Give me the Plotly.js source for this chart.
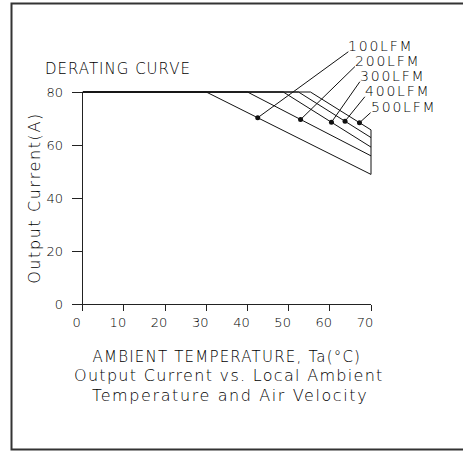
<!DOCTYPE html>
<html>
<head>
<meta charset="utf-8">
<script src="https://cdn.plot.ly/plotly-3.0.1.min.js"></script>
<style>
  html, body { margin: 0; padding: 0; background: #fff; }
  #chart { width: 463px; height: 451px; }
</style>
</head>
<body>
<div id="chart"></div>
<script>
// Derating curves: output current is held at full load up to a break
// temperature, then falls in a straight line to its value at 70 °C.
const airflow      = ['100LFM', '200LFM', '300LFM', '400LFM', '500LFM'];
const breakTemp    = [30, 40, 48.7, 52.4, 55.3];
const fullCurrent  = 80;
const maxTemp      = 70;
const currentAt70  = [48.9, 55.9, 59.2, 62.8, 65.7];

// Marked point on each curve (the leader line for its label starts here)
const markTemp     = [42.5, 52.9, 60.4, 63.7, 67.2];
const markCurrent  = [70.3, 69.6, 68.6, 69.0, 68.4];

const xTicks = [0, 10, 20, 30, 40, 50, 60, 70];
const yTicks = [0, 20, 40, 60, 80];

// ---- geometry of the figure (pixels) ----
const W = 463, H = 451;
const X0PX = 82.7, X70PX = 371;     // x = 0 and x = 70
const Y0PX = 304,  Y80PX = 92;      // y = 0 and y = 80
const pxPerX = (X70PX - X0PX) / maxTemp;
const pxPerY = (Y0PX - Y80PX) / fullCurrent;

// Label anchors (data units of the free overlay axes): end of each leader
const labelTemp    = [64.5, 66.1, 67.3, 68.5, 69.9];
const labelCurrent = [95.2, 89.6, 83.9, 78.2, 72.2];

const INK = '#111';
const TEXT = '#000';
const FONT = 'DejaVu Sans';
const WEIGHT = 200;
const spaced = (t, s) => '<span style="letter-spacing:' + s + 'px">' + t + '</span>';
const font = (size) => ({ family: FONT, size: size, color: TEXT, weight: WEIGHT });

const traces = [];

// curves, drawn on the overlay axes so the plateau and end edge are not clipped
airflow.forEach((name, i) => {
  traces.push({
    type: 'scatter', mode: 'lines', name: name,
    x: [0, breakTemp[i], maxTemp],
    y: [fullCurrent, fullCurrent, currentAt70[i]],
    xaxis: 'x2', yaxis: 'y2',
    line: { color: INK, width: 1 },
    hoverinfo: 'skip'
  });
});

// vertical edge closing the curves at 70 °C
traces.push({
  type: 'scatter', mode: 'lines',
  x: [maxTemp, maxTemp],
  y: [Math.min(...currentAt70), Math.max(...currentAt70)],
  xaxis: 'x2', yaxis: 'y2',
  line: { color: INK, width: 1 },
  hoverinfo: 'skip'
});

// leader lines from marked points to labels
airflow.forEach((name, i) => {
  traces.push({
    type: 'scatter', mode: 'lines',
    x: [markTemp[i], labelTemp[i]],
    y: [markCurrent[i], labelCurrent[i]],
    xaxis: 'x2', yaxis: 'y2',
    line: { color: INK, width: 1 },
    hoverinfo: 'skip'
  });
});

// marked points on the main axes
traces.push({
  type: 'scatter', mode: 'markers',
  x: markTemp, y: markCurrent,
  xaxis: 'x', yaxis: 'y',
  cliponaxis: false,
  marker: { color: INK, size: 5, symbol: 'circle' },
  hoverinfo: 'skip'
});

const annotations = [];

annotations.push({
  xref: 'paper', yref: 'paper',
  x: 43 / W, y: (H - 69.2) / H,
  xanchor: 'left', yanchor: 'middle', showarrow: false,
  text: spaced('DERATING CURVE', 1),
  font: font(15)
});

airflow.forEach((name, i) => {
  annotations.push({
    xref: 'x2', yref: 'y2',
    x: labelTemp[i], y: labelCurrent[i],
    xanchor: 'left', yanchor: 'bottom', showarrow: false,
    xshift: -2, yshift: -4,
    text: spaced(name, 1.8),
    font: font(14)
  });
});

annotations.push({
  xref: 'paper', yref: 'paper',
  x: 229 / W, y: (H - 375.8) / H,
  xanchor: 'center', yanchor: 'middle', showarrow: false,
  text: spaced('Output Current vs. Local Ambient', 1.3),
  font: font(16)
});
annotations.push({
  xref: 'paper', yref: 'paper',
  x: 229.5 / W, y: (H - 395.8) / H,
  xanchor: 'center', yanchor: 'middle', showarrow: false,
  text: spaced('Temperature and Air Velocity', 1.6),
  font: font(16)
});

const axisCommon = {
  showline: true, linecolor: '#222', linewidth: 1,
  ticks: 'outside', tickcolor: '#222', tickwidth: 1,
  showgrid: false, zeroline: false, fixedrange: true,
  tickfont: font(13)
};

const layout = {
  width: W, height: H,
  margin: { l: 0, r: 0, t: 0, b: 0, pad: 0 },
  paper_bgcolor: '#fff',
  plot_bgcolor: 'rgba(0,0,0,0)',
  showlegend: false,
  font: { family: FONT, color: TEXT, weight: WEIGHT },
  xaxis: Object.assign({}, axisCommon, {
    domain: [X0PX / W, X70PX / W],
    range: [0, maxTemp],
    tickvals: xTicks,
    ticklen: 6,
    ticklabelshift: -6,
    anchor: 'y',
    title: {
      text: spaced('AMBIENT TEMPERATURE, Ta(°C)', 1.2),
      font: font(15),
      standoff: 22
    }
  }),
  yaxis: Object.assign({}, axisCommon, {
    domain: [(H - Y0PX) / H, (H - Y80PX) / H],
    range: [0, fullCurrent],
    tickvals: yTicks,
    ticklen: 10,
    ticklabelstandoff: 6,
    anchor: 'x',
    title: {
      text: spaced('Output Current(A)', 1.6),
      font: font(16),
      standoff: 1
    }
  }),
  xaxis2: {
    domain: [X0PX / W, 1],
    range: [0, (W - X0PX) / pxPerX],
    visible: false, fixedrange: true, anchor: 'y2'
  },
  yaxis2: {
    domain: [(H - Y0PX) / H, 1],
    range: [0, Y0PX / pxPerY],
    visible: false, fixedrange: true, anchor: 'x2'
  },
  shapes: [{
    type: 'rect', xref: 'paper', yref: 'paper',
    x0: 11.5 / W, x1: 1.05, y0: (H - 449.5) / H, y1: (H - 3.5) / H,
    line: { color: '#333', width: 2 },
    fillcolor: 'rgba(0,0,0,0)'
  }],
  annotations: annotations
};

Plotly.newPlot('chart', traces, layout, { staticPlot: true, displayModeBar: false });
</script>
</body>
</html>
